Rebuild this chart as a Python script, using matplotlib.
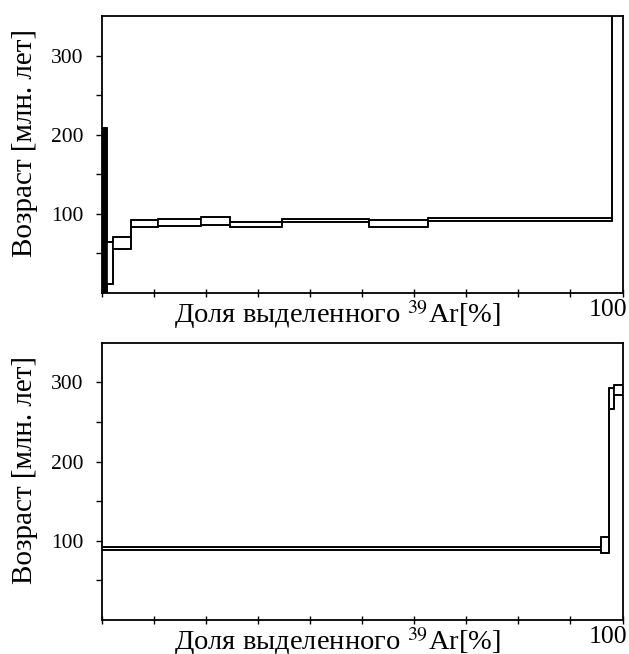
import matplotlib
matplotlib.use("Agg")
import numpy as np
import matplotlib.pyplot as plt
from matplotlib.transforms import ScaledTranslation

# верхний спектр: границы ступеней (% 39Ar), возраст и ошибка (млн. лет)
top_edges = [0, 1.0, 2.1, 5.7, 10.9, 19.0, 24.6, 34.7, 51.4, 62.7, 98.0, 100]
top_age = [104.5, 37.7, 63.3, 88.2, 89.1, 91.0, 86.6, 91.5, 88.0, 93.2, 420.0]
top_err = [104.5, 26.3, 7.2, 4.6, 4.9, 5.3, 3.6, 2.2, 4.6, 1.7, 20.0]
top_fill = ["black", "white", "white", "white", "white", "white",
            "white", "white", "white", "white", "white"]

# нижний спектр
bot_edges = [0, 95.8, 97.4, 98.4, 100]
bot_age = [89.7, 94.4, 279.7, 290.3]
bot_err = [1.9, 10.0, 13.2, 5.9]
bot_fill = ["white", "white", "white", "white"]

y_major = [100, 200, 300]
y_minor = [50, 150, 250]
x_ticks = list(range(0, 101, 10))

plt.rcParams["font.family"] = ["Liberation Serif", "DejaVu Serif"]
plt.rcParams["mathtext.fontset"] = "stix"

fig = plt.figure(figsize=(6.29, 6.54), dpi=100)
ax1 = fig.add_axes([0.1617, 0.552, 0.828, 0.4235])
ax2 = fig.add_axes([0.1617, 0.052, 0.828, 0.424])


def spectrum(ax, edges, age, err, fill):
    edges = np.array(edges)
    age = np.array(age)
    err = np.array(err)
    left = edges[:-1]
    width = np.diff(edges)
    lo = age - err
    hi = age + err
    ax.bar(left, 2 * err, width=width, bottom=lo, align="edge",
           color=fill, edgecolor="black", linewidth=1.2, zorder=2)
    # соединительные линии между ступенями
    ax.step(edges, np.append(hi, hi[-1]), where="post", color="black", lw=1.2, zorder=3)
    ax.step(edges, np.append(lo, lo[-1]), where="post", color="black", lw=1.2, zorder=3)

    ax.set_xlim(0, 100)
    ax.set_ylim(0, 350)
    ax.set_yticks(y_major)
    ax.set_yticks(y_minor, minor=True)
    ax.set_xticks(x_ticks)
    ax.set_xticklabels(["" for t in x_ticks[:-1]] + ["100"])
    ax.tick_params(axis="y", which="both", direction="out", length=4, width=1,
                   labelsize=15.5, pad=9)
    ax.tick_params(axis="x", direction="inout", length=6, width=1,
                   labelsize=18.5, pad=1)
    for lbl in ax.get_xticklabels():
        lbl.set_transform(lbl.get_transform() + ScaledTranslation(-0.15, 0, fig.dpi_scale_trans))
    for s in ax.spines.values():
        s.set_linewidth(1.3)
    ax.set_xlabel(r"Доля выделенного $^{\mathrm{39}}$Ar[%]", fontsize=20.5)
    ax.xaxis.set_label_coords(0.452, -0.02, transform=ax.transAxes)
    ax.xaxis.label.set_va("top")
    ax.set_ylabel("Возраст [млн. лет]", fontsize=21)
    ax.yaxis.label.set_va("center")
    ax.yaxis.set_label_coords(-0.147, 0.54)


spectrum(ax1, top_edges, top_age, top_err, top_fill)
spectrum(ax2, bot_edges, bot_age, bot_err, bot_fill)

fig.savefig("out.png", dpi=100)
